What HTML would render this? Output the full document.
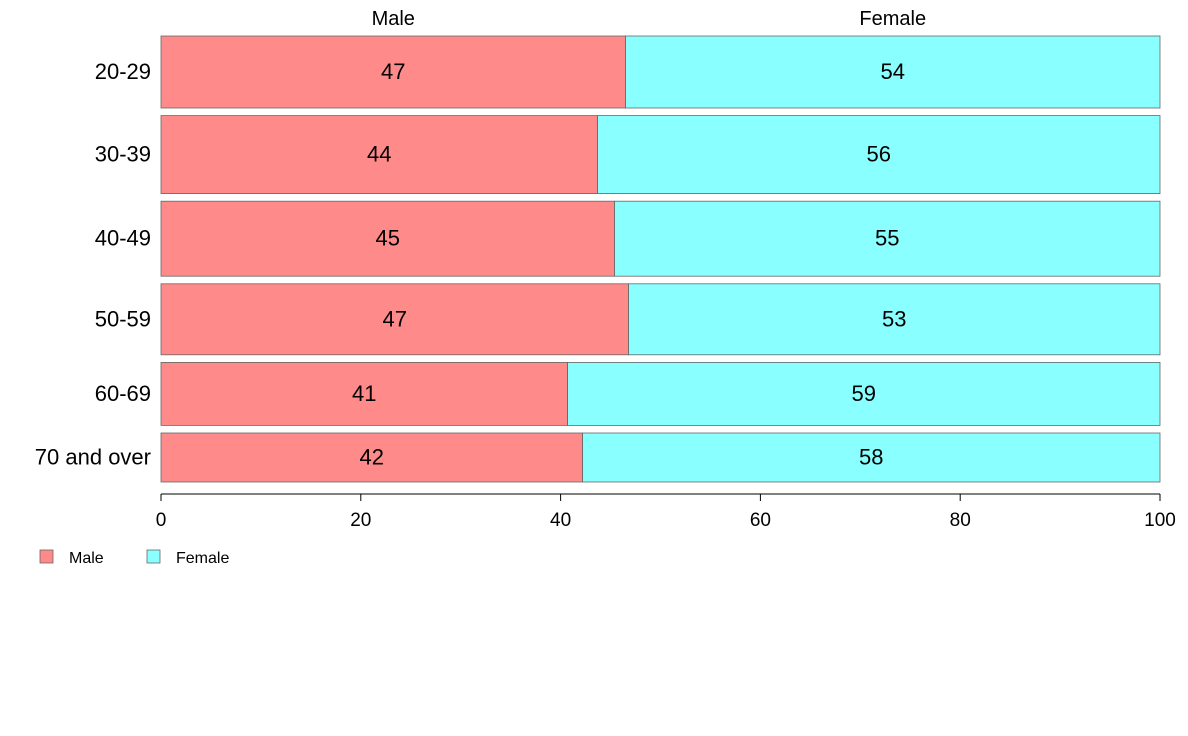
<!DOCTYPE html>
<html><head><meta charset="utf-8"><style>
body{margin:0;background:#fff;}
svg{font-family:"Liberation Sans",Arial,sans-serif;display:block}
</style></head><body>
<svg id="chart" width="1188" height="736"></svg>
<script>
const categories=["20-29","30-39","40-49","50-59","60-69","70 and over"];
const malePct=[46.5,43.7,45.4,46.8,40.7,42.2];
const rowWeights=[72,78,75,71,63,49];
const xTicks=[0,20,40,60,80,100];
const seriesNames=["Male","Female"];

const NS="http://www.w3.org/2000/svg";
const svg=document.getElementById('chart');
const X0=161,X1=1160,Y0=36,Y1=482,GAP=7.6;
const x=v=>X0+(X1-X0)*v/100;
const totalW=rowWeights.reduce((a,b)=>a+b,0);
const avail=(Y1-Y0)-GAP*(categories.length-1);
function mk(tag,attrs,text){const e=document.createElementNS(NS,tag);for(const k in attrs)e.setAttribute(k,attrs[k]);if(text!==undefined)e.textContent=text;svg.appendChild(e);return e;}
let y=Y0;
categories.forEach((c,i)=>{
  const h=avail*rowWeights[i]/totalW;
  const m=malePct[i];
  const r1=mk('rect',{x:x(0),y:y,width:x(m)-x(0),height:h,fill:'#ff8a8a',stroke:'#666','stroke-width':0.8});
  
  
  const r2=mk('rect',{x:x(m),y:y,width:x(100)-x(m),height:h,fill:'#8affff',stroke:'#666','stroke-width':0.8});
  
  
  const cy=y+h/2+7;
  const t1=mk('text',{x:(x(0)+x(m))/2,y:cy,'font-size':22,'text-anchor':'middle'},Math.round(m));
  
  
  const t2=mk('text',{x:(x(m)+x(100))/2,y:cy,'font-size':22,'text-anchor':'middle'},Math.round(100-m));
  
  
  const tl=mk('text',{x:151,y:cy,'font-size':22,'text-anchor':'end'},c);
  
  
  if(i===0){
    const h1=mk('text',{x:(x(0)+x(m))/2,y:25,'font-size':20,'text-anchor':'middle'},seriesNames[0]);
    
    
    const h2=mk('text',{x:(x(m)+x(100))/2,y:25,'font-size':20,'text-anchor':'middle'},seriesNames[1]);
    
    
  }
  y+=h+GAP;
});
const ax=mk('line',{x1:X0,x2:X1,y1:494,y2:494,stroke:'#000','stroke-width':1});


xTicks.forEach(v=>{
  const tk=mk('line',{x1:x(v),x2:x(v),y1:494,y2:501,stroke:'#000'});
  
  
  const tt=mk('text',{x:x(v),y:526,'font-size':19,'text-anchor':'middle'},v);
  
  
});
const legendCols=['#ff8a8a','#8affff'],legendX=[40,147];
seriesNames.forEach((n,i)=>{
  const s=mk('rect',{x:legendX[i],y:550,width:13,height:13,fill:legendCols[i],stroke:'#666','stroke-width':0.8});
  
  
  const lt=mk('text',{x:legendX[i]+29,y:563,'font-size':16},n);
  
  
});
</script>
</body></html>
